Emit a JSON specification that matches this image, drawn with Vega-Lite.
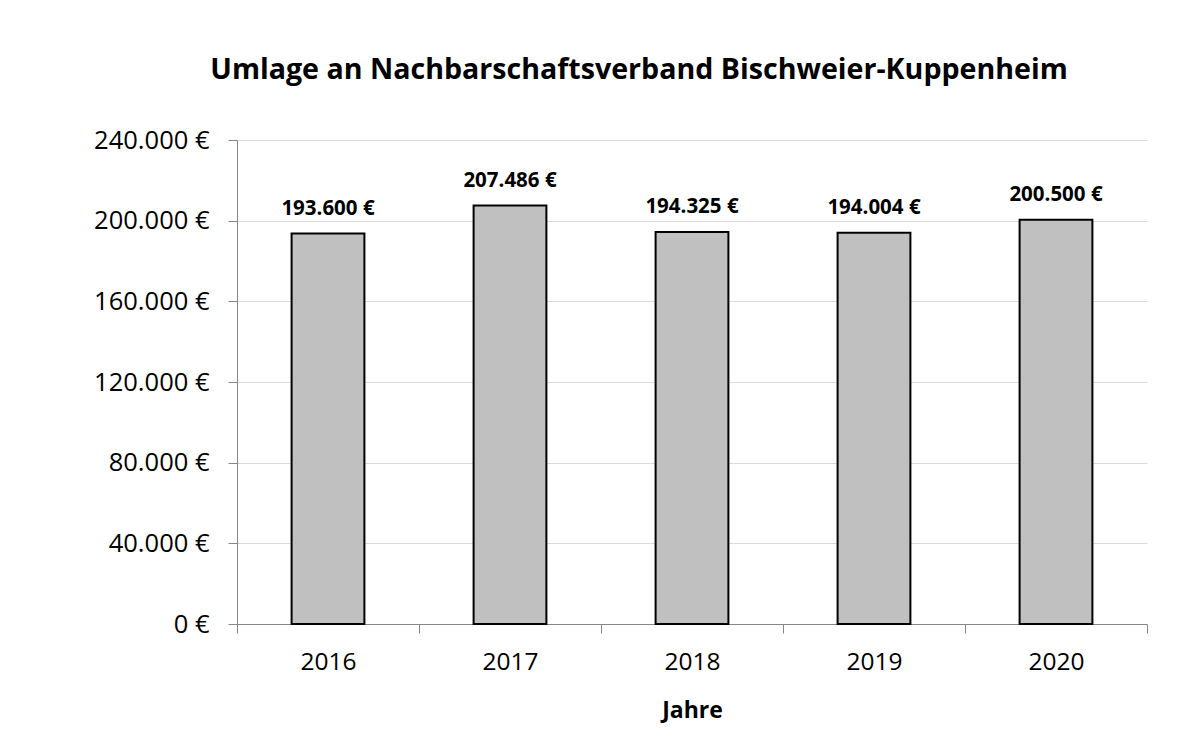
{
  "$schema": "https://vega.github.io/schema/vega-lite/v6.json",
  "autosize": "none",
  "width": 910,
  "height": 484,
  "padding": {"left": 237, "top": 140, "right": 49, "bottom": 127},
  "background": "white",
  "config": {
    "locale": {"number": {"decimal": ",", "thousands": ".", "grouping": [3], "currency": ["", " €"]}},
    "font": "Open Sans",
    "view": {"stroke": null}
  },
  "title": {
    "text": "Umlage an Nachbarschaftsverband Bischweier-Kuppenheim",
    "font": "Open Sans",
    "fontSize": 28.6,
    "fontWeight": "bold",
    "color": "#000000",
    "anchor": "middle",
    "frame": "group",
    "baseline": "alphabetic",
    "offset": 20,
    "dx": -53
  },
  "data": {
    "values": [
      {"Jahr": "2016", "Betrag": 193600},
      {"Jahr": "2017", "Betrag": 207486},
      {"Jahr": "2018", "Betrag": 194325},
      {"Jahr": "2019", "Betrag": 194004},
      {"Jahr": "2020", "Betrag": 200500}
    ]
  },
  "encoding": {
    "x": {
      "field": "Jahr",
      "type": "nominal",
      "scale": {"paddingInner": 0, "paddingOuter": 0},
      "axis": {
        "title": "Jahre",
        "titleFont": "Open Sans",
        "titleFontSize": 23,
        "titleFontWeight": "bold",
        "titleColor": "#000000",
        "titlePadding": 26,
        "labelAngle": 0,
        "labelFont": "Open Sans",
        "labelFontSize": 24.5,
        "labelColor": "#000000",
        "labelPadding": 17,
        "tickBand": "extent",
        "tickSize": 9,
        "tickColor": "#868686",
        "domainColor": "#868686",
        "grid": false
      }
    },
    "y": {
      "field": "Betrag",
      "type": "quantitative",
      "scale": {"domain": [0, 240000], "nice": false},
      "axis": {
        "title": null,
        "values": [0, 40000, 80000, 120000, 160000, 200000, 240000],
        "format": "$,.0f",
        "labelFont": "Open Sans",
        "labelFontSize": 25.5,
        "labelColor": "#000000",
        "labelPadding": 19,
        "tickSize": 9,
        "tickColor": "#868686",
        "domainColor": "#868686",
        "grid": true,
        "gridColor": "#d9d9d9",
        "gridWidth": 1
      }
    }
  },
  "layer": [
    {
      "mark": {"type": "bar", "width": {"band": 0.4}, "fill": "#c0c0c0", "stroke": "#000000", "strokeWidth": 2}
    },
    {
      "mark": {"type": "text", "font": "Open Sans", "fontSize": 20.5, "fontWeight": "bold", "color": "#000000", "baseline": "alphabetic", "dy": -19},
      "encoding": {
        "text": {"field": "Betrag", "type": "quantitative", "format": "$,.0f"}
      }
    }
  ]
}
